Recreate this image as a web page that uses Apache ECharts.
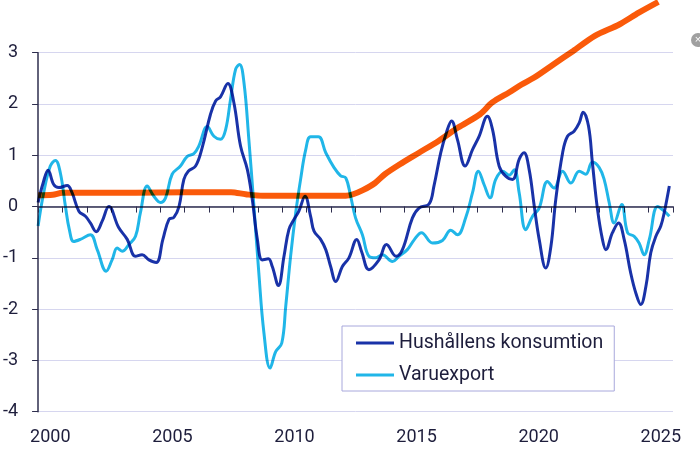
<!DOCTYPE html>
<html>
<head>
<meta charset="utf-8">
<script src="https://cdn.jsdelivr.net/npm/echarts@6/dist/echarts.min.js"></script>
<style>
html, body { margin: 0; padding: 0; background: #fff; }
#chart { width: 700px; height: 455px; }
</style>
</head>
<body>
<div id="chart"></div>
<script>
// Hushållens konsumtion (tid i år, värde)
var konsTime = [2000.00, 2000.20, 2000.41, 2000.64, 2000.85, 2001.19, 2001.39, 2001.67, 2001.94, 2002.14,
    2002.38, 2002.62, 2002.90, 2003.30, 2003.65, 2003.99, 2004.26, 2004.54, 2004.84, 2005.11,
    2005.36, 2005.56, 2005.77, 2005.97, 2006.15, 2006.45, 2006.72, 2007.06, 2007.27, 2007.47,
    2007.77, 2008.02, 2008.29, 2008.57, 2008.77, 2008.98, 2009.18, 2009.43, 2009.59, 2009.84,
    2010.07, 2010.27, 2010.48, 2010.68, 2010.93, 2011.16, 2011.30, 2011.57, 2011.78, 2011.98,
    2012.19, 2012.46, 2012.73, 2013.05, 2013.25, 2013.55, 2013.96, 2014.27, 2014.66, 2014.92,
    2015.33, 2015.60, 2016.01, 2016.21, 2016.49, 2016.72, 2016.93, 2017.17, 2017.49, 2017.79,
    2018.06, 2018.40, 2018.61, 2018.88, 2019.15, 2019.43, 2019.70, 2019.90, 2020.11, 2020.32,
    2020.52, 2020.79, 2021.00, 2021.20, 2021.48, 2021.68, 2021.95, 2022.16, 2022.32, 2022.54,
    2022.70, 2022.91, 2023.11, 2023.25, 2023.52, 2023.77, 2024.00, 2024.27, 2024.48, 2024.68,
    2024.89, 2025.09, 2025.30, 2025.50, 2025.64, 2025.85]
var konsValue = [0.08, 0.45, 0.71, 0.43, 0.37, 0.41, 0.27, -0.09, -0.19, -0.32,
    -0.49, -0.29, 0.0, -0.41, -0.64, -0.97, -0.94, -1.04, -1.09, -0.64,
    -0.25, -0.21, 0.0, 0.53, 0.69, 0.79, 1.15, 1.8, 2.06, 2.14,
    2.4, 2.02, 1.18, 0.72, 0.14, -0.64, -1.04, -1.02, -1.17, -1.54,
    -0.97, -0.45, -0.25, -0.09, 0.2, -0.19, -0.48, -0.64, -0.84, -1.17,
    -1.46, -1.17, -1.0, -0.64, -0.88, -1.23, -1.04, -0.74, -0.97, -0.84,
    -0.22, -0.03, 0.05, 0.4, 1.05, 1.44, 1.67, 1.31, 0.79, 1.11,
    1.37, 1.76, 1.5, 0.79, 0.59, 0.53, 0.92, 1.05, 0.72, 0.0,
    -0.64, -1.2, -0.78, 0.14, 1.05, 1.37, 1.47, 1.63, 1.84, 1.57,
    0.85, -0.06, -0.64, -0.84, -0.51, -0.32, -0.64, -1.3, -1.69, -1.91,
    -1.56, -0.9, -0.58, -0.38, -0.12, 0.4]

// Varuexport
var exportTime = [2000.00, 2000.23, 2000.50, 2000.71, 2000.91, 2001.12, 2001.28, 2001.46, 2001.73, 2002.14,
    2002.42, 2002.79, 2003.03, 2003.24, 2003.44, 2003.72, 2003.99, 2004.19, 2004.47, 2004.74,
    2005.01, 2005.22, 2005.49, 2005.83, 2006.11, 2006.38, 2006.58, 2006.93, 2007.20, 2007.47,
    2007.68, 2007.88, 2008.09, 2008.25, 2008.43, 2008.63, 2008.84, 2009.04, 2009.25, 2009.50,
    2009.73, 2009.98, 2010.14, 2010.34, 2010.55, 2010.75, 2010.96, 2011.16, 2011.48, 2011.78,
    2012.12, 2012.39, 2012.60, 2012.80, 2013.00, 2013.28, 2013.55, 2013.82, 2014.10, 2014.51,
    2014.78, 2015.12, 2015.40, 2015.70, 2016.15, 2016.56, 2016.90, 2017.17, 2017.51, 2017.79,
    2018.03, 2018.27, 2018.51, 2018.74, 2019.02, 2019.29, 2019.50, 2019.70, 2019.97, 2020.25,
    2020.52, 2020.86, 2021.13, 2021.48, 2021.82, 2022.16, 2022.43, 2022.70, 2022.98, 2023.18,
    2023.39, 2023.59, 2023.90, 2024.14, 2024.41, 2024.61, 2024.82, 2025.03, 2025.37, 2025.64,
    2025.85]
var exportValue = [-0.38, 0.27, 0.79, 0.9, 0.66, 0.0, -0.45, -0.68, -0.64, -0.55,
    -0.84, -1.26, -1.04, -0.81, -0.87, -0.74, -0.58, -0.12, 0.4, 0.2,
    0.08, 0.17, 0.63, 0.79, 0.98, 1.03, 1.18, 1.56, 1.37, 1.31,
    1.5, 2.09, 2.68, 2.77, 2.42, 1.31, 0.0, -1.3, -2.47, -3.15,
    -2.83, -2.66, -1.95, -0.97, -0.12, 0.53, 1.11, 1.36, 1.36, 1.05,
    0.76, 0.6, 0.56, 0.2, -0.22, -0.55, -0.97, -1.0, -0.94, -1.07,
    -0.97, -0.84, -0.65, -0.51, -0.71, -0.66, -0.46, -0.55, -0.22, 0.27,
    0.69, 0.42, 0.17, 0.53, 0.69, 0.61, 0.72, 0.27, -0.45, -0.19,
    -0.03, 0.49, 0.36, 0.69, 0.46, 0.69, 0.63, 0.87, 0.76, 0.53,
    0.07, -0.32, 0.04, -0.51, -0.58, -0.71, -0.94, -0.64, 0.0, -0.09,
    -0.19]

// orange trendlinje (ej i legend)
var trendTime = [2000.0, 2000.6, 2001.0, 2004.0, 2006.0, 2007.9, 2008.5, 2009.2, 2012.6, 2012.9,
    2013.3, 2013.8, 2014.2, 2014.8, 2015.6, 2016.4, 2017.2, 2018.1, 2018.6, 2019.3,
    2019.8, 2020.3, 2021.1, 2021.9, 2022.8, 2023.8, 2024.6, 2025.4]
var trendValue = [0.22, 0.23, 0.27, 0.27, 0.28, 0.28, 0.24, 0.21, 0.21, 0.24,
    0.32, 0.46, 0.63, 0.82, 1.05, 1.28, 1.54, 1.8, 2.03, 2.23,
    2.38, 2.51, 2.77, 3.03, 3.33, 3.55, 3.78, 3.99]

var yearLabels = ['2000', '2005', '2010', '2015', '2020', '2025']
var yMin = -4, yMax = 3

var textColor = '#1e1e3c'
var axisColor = '#2e2e4e'

function pairs(t, v) {
    var out = []
    for (var i = 0; i < t.length; i++) out.push([t[i], v[i]])
    return out
}

// årsetiketter centrerade mitt i året
var yearPos = yearLabels.map(function (y) { return parseInt(y) + 0.5 })

var chart = echarts.init(document.getElementById('chart'))

var option = {
    animation: false,
    textStyle: { fontFamily: 'Roboto' },
    grid: { left: 36, right: 27, top: 52.7, bottom: 43.3 },
    legend: {
        data: ['Hushållens konsumtion', 'Varuexport'],
        orient: 'vertical',
        left: 342,
        top: 326,
        backgroundColor: '#fff',
        borderColor: '#a8a8dc',
        borderWidth: 1,
        padding: [6, 11, 5, 14],
        itemWidth: 38,
        itemHeight: 3,
        itemGap: 10,
        icon: 'rect',
        textStyle: { fontSize: 19.5, color: textColor, fontFamily: 'Roboto', lineHeight: 22 }
    },
    xAxis: [
        {
            // axellinje vid noll med årsmarkeringar
            type: 'value',
            min: 2000,
            max: 2026,
            interval: 1,
            position: 'bottom',
            axisLine: { onZero: true, lineStyle: { color: axisColor, width: 1.5 } },
            axisTick: { show: true, length: 6, lineStyle: { color: axisColor } },
            axisLabel: { show: false },
            splitLine: { show: false }
        },
        {
            // årsetiketter längst ner
            type: 'value',
            min: 2000,
            max: 2026,
            position: 'bottom',
            axisLine: { show: false, onZero: false },
            axisTick: { show: false },
            splitLine: { show: false },
            axisLabel: {
                customValues: yearPos,
                formatter: function (v) { return yearLabels[Math.round((v - 2000.5) / 5)] },
                fontSize: 18,
                color: textColor,
                margin: 17
            }
        }
    ],
    yAxis: {
        type: 'value',
        min: yMin,
        max: yMax,
        interval: 1,
        axisLine: { show: true, onZero: false, lineStyle: { color: axisColor, width: 1.5 } },
        axisTick: { show: true, length: 6, lineStyle: { color: axisColor } },
        axisLabel: { fontSize: 18, color: textColor, margin: 20 },
        splitLine: { lineStyle: { color: '#d6d6ef', width: 1 } }
    },
    series: [
        {
            name: 'Hushållens konsumtion',
            type: 'line',
            data: pairs(konsTime, konsValue),
            smooth: 0.4,
            showSymbol: false,
            blendMode: 'multiply',
            itemStyle: { color: '#1932a8' },
            lineStyle: { color: '#1932a8', width: 3 }
        },
        {
            name: 'Varuexport',
            type: 'line',
            data: pairs(exportTime, exportValue),
            smooth: 0.4,
            showSymbol: false,
            blendMode: 'multiply',
            itemStyle: { color: '#20b6e8' },
            lineStyle: { color: '#20b6e8', width: 3 }
        },
        {
            name: 'Trend',
            type: 'line',
            data: pairs(trendTime, trendValue),
            smooth: 0.3,
            showSymbol: false,
            clip: false,
            blendMode: 'multiply',
            itemStyle: { color: '#fa5a0a' },
            lineStyle: { color: '#fa5a0a', width: 6 }
        }
    ],
    graphic: [
        { type: 'circle', shape: { cx: 698, cy: 40, r: 7 }, style: { fill: '#a0a0a0' } },
        { type: 'text', x: 698, y: 40, style: { text: '×', fill: '#fff', fontSize: 11, align: 'center', verticalAlign: 'middle' } }
    ]
}

chart.setOption(option)
</script>
</body>
</html>
